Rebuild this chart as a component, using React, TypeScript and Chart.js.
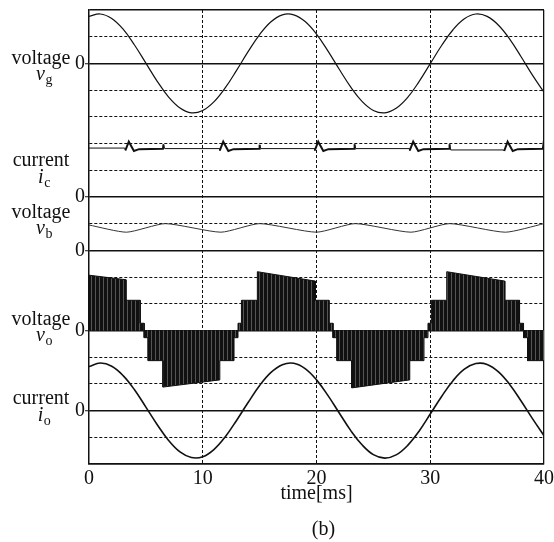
import { useEffect, useRef } from "react";
import { Chart, registerables } from "chart.js";

Chart.register(...registerables);

// ---- data (time in ms, values in grid units relative to each trace's zero line) ----
const timeTicks = [0, 10, 20, 30, 40];
const traceOffsets = [15, 10, 8, 5, 2]; // zero line of vg, ic, vb, vo, io
const traceNames = ["voltage", "current", "voltage", "voltage", "current"];
const traceSymbols = ["v", "i", "v", "v", "i"];
const traceSubs = ["g", "c", "b", "o", "o"];

const sineTime = [
  0, 1, 2, 3, 4, 5, 6, 7, 8, 9, 10, 11, 12, 13, 14, 15, 16, 17, 18, 19, 20,
  21, 22, 23, 24, 25, 26, 27, 28, 29, 30, 31, 32, 33, 34, 35, 36, 37, 38, 39, 40,
];
const vgValues = [
  1.76, 1.85, 1.68, 1.28, 0.69, 0.01, -0.67, -1.26, -1.67, -1.85, -1.76,
  -1.43, -0.9, -0.24, 0.45, 1.08, 1.56, 1.82, 1.82, 1.57, 1.1,
  0.47, -0.22, -0.88, -1.42, -1.76, -1.85, -1.68, -1.28, -0.69, -0.01,
  0.67, 1.26, 1.67, 1.85, 1.76, 1.43, 0.9, 0.24, -0.45, -1.08,
];
const ioValues = [
  1.65, 1.78, 1.66, 1.31, 0.78, 0.13, -0.53, -1.12, -1.55, -1.76, -1.73,
  -1.45, -0.97, -0.35, 0.31, 0.94, 1.43, 1.72, 1.77, 1.57, 1.15,
  0.57, -0.09, -0.74, -1.28, -1.65, -1.78, -1.66, -1.31, -0.78, -0.13,
  0.53, 1.12, 1.55, 1.76, 1.73, 1.45, 0.97, 0.35, -0.31, -0.94,
];

const icTime = [
  0, 3.15, 3.2, 3.5, 3.95, 4.4, 6.5, 6.55, 6.65,
  11.45, 11.5, 11.8, 12.25, 12.7, 14.95, 15.0, 15.1,
  19.8, 19.85, 20.15, 20.6, 21.05, 23.3, 23.35, 23.45,
  28.15, 28.2, 28.5, 28.95, 29.4, 31.65, 31.7, 31.8,
  36.45, 36.5, 36.8, 37.25, 37.7, 39.9, 39.95, 40,
];
const icValues = [
  1.83, 1.83, 1.74, 2.07, 1.72, 1.79, 1.8, 1.97, 1.81,
  1.81, 1.74, 2.07, 1.72, 1.79, 1.8, 1.95, 1.81,
  1.81, 1.74, 2.07, 1.72, 1.79, 1.8, 1.97, 1.81,
  1.81, 1.74, 2.07, 1.72, 1.79, 1.8, 1.97, 1.76,
  1.76, 1.72, 2.07, 1.72, 1.79, 1.8, 1.97, 1.85,
];
const icBoldFrom = [3.2, 11.5, 19.85, 28.2, 36.5];
const icBoldTo = [6.55, 15.0, 23.35, 31.7, 40];

const vbTime = [0, 3.3, 6.7, 11.6, 15.0, 20.0, 23.4, 28.3, 31.7, 36.6, 40];
const vbValues = [0.95, 0.68, 1.0, 0.68, 1.0, 0.68, 1.0, 0.68, 1.0, 0.68, 1.0];

const voTime = [
  0, 3.25, 3.25, 4.5, 4.5, 4.85, 4.85, 5.2, 5.2, 6.5, 6.5, 11.5, 11.5, 12.75, 12.75, 13.1,
  13.1, 13.4, 13.4, 14.8, 14.8, 19.9, 19.9, 21.1, 21.1, 21.45,
  21.45, 21.8, 21.8, 23.1, 23.1, 28.2, 28.2, 29.45, 29.45, 29.8,
  29.8, 30.1, 30.1, 31.45, 31.45, 36.55, 36.55, 37.85, 37.85, 38.2,
  38.2, 38.55, 38.55, 40,
];
const voValues = [
  2.07, 1.9, 1.13, 1.13, 0.27, 0.27, -0.27, -0.27, -1.13, -1.13, -2.12, -1.85, -1.13, -1.13, -0.27, -0.27,
  0.27, 0.27, 1.13, 1.13, 2.2, 1.85, 1.13, 1.13, 0.27, 0.27,
  -0.27, -0.27, -1.13, -1.13, -2.15, -1.85, -1.13, -1.13, -0.27, -0.27,
  0.27, 0.27, 1.13, 1.13, 2.2, 1.85, 1.13, 1.13, 0.27, 0.27,
  -0.27, -0.27, -1.13, -1.13,
];

const FONT = '"Liberation Serif", "Times New Roman", serif';

function pts(ts: number[], vs: number[], off: number) {
  return ts.map((t, i) => ({ x: t, y: vs[i] + off }));
}

const labelPlugin = {
  id: "traceLabels",
  afterDraw(chart: any) {
    const { ctx } = chart;
    const y = chart.scales.y;
    const x = chart.scales.x;
    const lift = [-5, -36, -38, -11, -12];
    ctx.save();
    ctx.fillStyle = "#111";
    traceNames.forEach((name: string, k: number) => {
      const zy = y.getPixelForValue(traceOffsets[k]);
      const y1 = zy + lift[k];
      ctx.font = `20px ${FONT}`;
      ctx.textAlign = "center";
      ctx.textBaseline = "middle";
      ctx.fillText(name, 41, y1);
      ctx.font = `italic 20px ${FONT}`;
      const w1 = ctx.measureText(traceSymbols[k]).width;
      ctx.font = `14px ${FONT}`;
      const w2 = ctx.measureText(traceSubs[k]).width;
      const sx = 44 - (w1 + w2) / 2;
      ctx.textAlign = "left";
      ctx.textBaseline = "alphabetic";
      ctx.font = `italic 20px ${FONT}`;
      ctx.fillText(traceSymbols[k], sx, y1 + 22);
      ctx.font = `14px ${FONT}`;
      ctx.fillText(traceSubs[k], sx + w1 + 0.5, y1 + 26);
    });
    ctx.font = `20px ${FONT}`;
    ctx.textAlign = "center";
    ctx.textBaseline = "middle";
    ctx.fillText("(b)", (x.left + x.right) / 2 + 7, 530);
    ctx.restore();
  },
};

export default function App() {
  const ref = useRef<HTMLCanvasElement>(null);
  useEffect(() => {
    const canvas = ref.current!;
    const pc = document.createElement("canvas");
    pc.width = 4;
    pc.height = 4;
    const p = pc.getContext("2d")!;
    p.fillStyle = "#111";
    p.fillRect(0, 0, 4, 4);
    p.fillStyle = "#555";
    p.fillRect(3, 0, 1, 4);
    const pattern = canvas.getContext("2d")!.createPattern(pc, "repeat");

    const inBold = (t: number) => icBoldFrom.some((f, i) => t >= f - 1e-6 && t < icBoldTo[i] - 1e-6);
    const isZero = (v: number) => traceOffsets.includes(v) || v === 0 || v === 17;

    const chart = new Chart(canvas, {
      type: "line",
      data: {
        datasets: [
          {
            label: "vg",
            data: pts(sineTime, vgValues, traceOffsets[0]),
            borderColor: "#111",
            borderWidth: 1.2,
            tension: 0.4,
            pointRadius: 0,
          },
          {
            label: "ic",
            data: pts(icTime, icValues, traceOffsets[1]),
            borderColor: "#111",
            borderWidth: 1,
            tension: 0,
            pointRadius: 0,
            segment: {
              borderWidth: (c: any) => (inBold(c.p0.parsed.x) ? 2 : 1),
            },
          } as any,
          {
            label: "vb",
            data: pts(vbTime, vbValues, traceOffsets[2]),
            borderColor: "#333",
            borderWidth: 1,
            tension: 0.2,
            pointRadius: 0,
          },
          {
            label: "vo",
            data: pts(voTime, voValues, traceOffsets[3]),
            borderColor: "#111",
            borderWidth: 1,
            backgroundColor: pattern as any,
            fill: { value: traceOffsets[3] },
            tension: 0,
            pointRadius: 0,
          },
          {
            label: "io",
            data: pts(sineTime, ioValues, traceOffsets[4]),
            borderColor: "#111",
            borderWidth: 1.6,
            tension: 0.4,
            pointRadius: 0,
          },
        ],
      },
      options: {
        responsive: false,
        animation: false,
        layout: { padding: { left: 0, right: 10, top: 10, bottom: 0 } },
        plugins: { legend: { display: false }, tooltip: { enabled: false } },
        scales: {
          x: {
            type: "linear",
            min: 0,
            max: 40,
            afterBuildTicks: (s: any) => {
              s.ticks = timeTicks.map((v) => ({ value: v }));
            },
            afterFit: (s: any) => {
              s.height = 78;
              s.paddingLeft = 0;
              s.paddingRight = 0;
            },
            ticks: {
              color: "#111",
              font: { family: FONT, size: 20 },
              padding: 3,
              maxRotation: 0,
              autoSkip: false,
            },
            title: {
              display: true,
              text: "time[ms]",
              color: "#111",
              font: { family: FONT, size: 20 },
              padding: { top: 0, bottom: 36 },
            },
            grid: {
              color: "#111",
              lineWidth: (c: any) => (c.tick && (c.tick.value === 0 || c.tick.value === 40) ? 1.3 : 1),
              drawTicks: false,
            },
            border: {
              color: "#111",
              width: 1.5,
              dash: (c: any) => (c.tick && c.tick.value !== 0 && c.tick.value !== 40 ? [3, 2] : []),
            },
          },
          y: {
            type: "linear",
            min: 0,
            max: 17,
            afterBuildTicks: (s: any) => {
              const t = [];
              for (let v = 0; v <= 17; v++) t.push({ value: v });
              s.ticks = t;
            },
            afterFit: (s: any) => {
              s.width = 89;
              s.paddingTop = 0;
              s.paddingBottom = 0;
            },
            ticks: {
              color: "#111",
              font: { family: FONT, size: 20 },
              padding: 0,
              autoSkip: false,
              callback: (v: any) => (traceOffsets.includes(Number(v)) ? "0" : ""),
            },
            grid: {
              color: "#111",
              lineWidth: (c: any) => (c.tick && isZero(c.tick.value) ? 1.5 : 1),
              tickLength: 4,
              tickColor: (c: any) =>
                c.tick && traceOffsets.includes(c.tick.value) ? "#111" : "rgba(0,0,0,0)",
              tickWidth: 1,
            },
            border: {
              color: "#111",
              width: 1.3,
              dash: (c: any) => (c.tick && !isZero(c.tick.value) ? [3, 2] : []),
            },
          },
        },
      },
      plugins: [labelPlugin],
    });
    return () => chart.destroy();
  }, []);

  return (
    <div style={{ position: "absolute", left: 0, top: 0, width: 554, height: 542, background: "#fff" }}>
      <canvas ref={ref} width={554} height={542} style={{ width: 554, height: 542 }} />
    </div>
  );
}
